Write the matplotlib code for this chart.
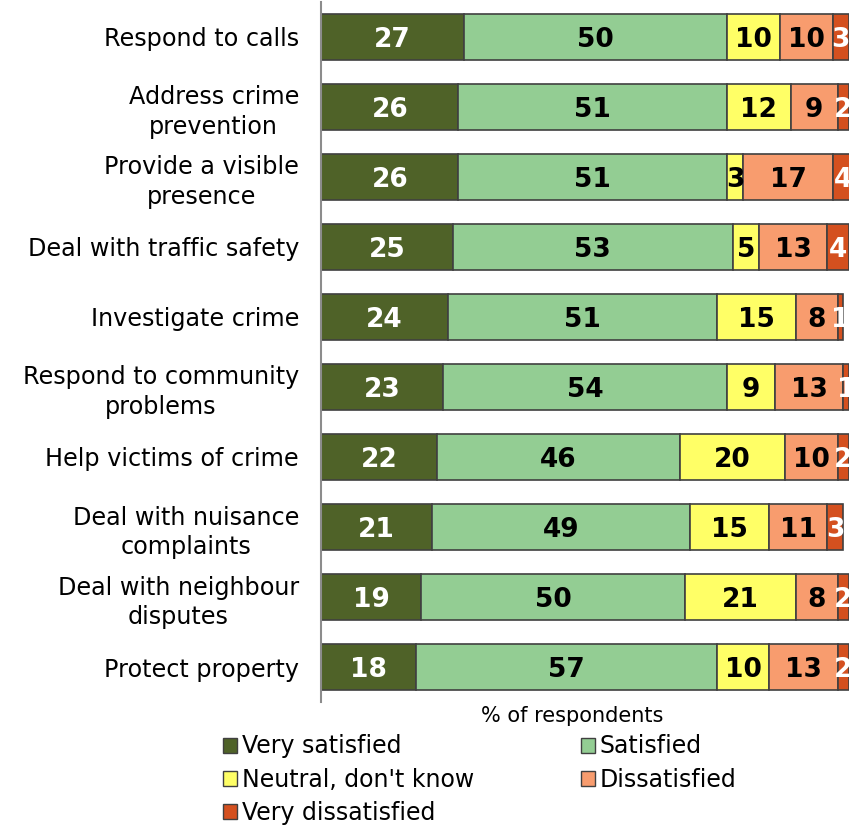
import matplotlib

matplotlib.use("Agg")
import matplotlib.pyplot as plt
from matplotlib.patches import Patch

categories = [
    "Respond to calls",
    "Address crime\nprevention",
    "Provide a visible\npresence",
    "Deal with traffic safety",
    "Investigate crime",
    "Respond to community\nproblems",
    "Help victims of crime",
    "Deal with nuisance\ncomplaints",
    "Deal with neighbour\ndisputes",
    "Protect property",
]
series_names = ["Very satisfied", "Satisfied", "Neutral, don't know", "Dissatisfied", "Very dissatisfied"]
very_satisfied = [27, 26, 26, 25, 24, 23, 22, 21, 19, 18]
satisfied = [50, 51, 51, 53, 51, 54, 46, 49, 50, 57]
neutral = [10, 12, 3, 5, 15, 9, 20, 15, 21, 10]
dissatisfied = [10, 9, 17, 13, 8, 13, 10, 11, 8, 13]
very_dissatisfied = [3, 2, 4, 4, 1, 1, 2, 3, 2, 2]

colors = ["#4f6228", "#93cd93", "#ffff66", "#f89c6e", "#d4501f"]
text_colors = ["white", "black", "black", "black", "white"]

fig = plt.figure(figsize=(8.52, 8.27), dpi=100)
ax = fig.add_axes([0.377, 0.151, 0.619, 0.847])

series = [very_satisfied, satisfied, neutral, dissatisfied, very_dissatisfied]
ypos = list(range(len(categories)))
left = [0] * len(categories)
for name, vals, col, tcol in zip(series_names, series, colors, text_colors):
    bars = ax.barh(ypos, vals, left=left, height=0.66, color=col,
                   edgecolor="#404040", linewidth=1.2, label=name)
    for b, v, l in zip(bars, vals, left):
        ax.text(l + v / 2, b.get_y() + b.get_height() / 2, str(v),
                ha="center", va="center_baseline", color=tcol, fontsize=19,
                fontweight="bold", clip_on=False)
    left = [a + b for a, b in zip(left, vals)]

ax.set_xlim(0, 100)
ax.set_ylim(len(categories) - 0.5, -0.5)
ax.set_yticks(ypos)
ax.set_yticklabels(categories, fontsize=17.2, multialignment="center",
                   linespacing=1.3)
ax.tick_params(axis="y", length=0, pad=16)
ax.set_xticks([])
for s in ["top", "right", "bottom"]:
    ax.spines[s].set_visible(False)
ax.spines["left"].set_color("#8c8c8c")
ax.spines["left"].set_linewidth(1.5)

fig.text(0.672, 0.134, "% of respondents", ha="center", va="center", fontsize=15)

handles = [Patch(facecolor=c, edgecolor="#404040", label=n) for c, n in zip(colors, series_names)]
order = [0, 2, 4, 1, 3]
fig.legend([handles[i] for i in order], [series_names[i] for i in order],
           ncol=2, loc="upper left", bbox_to_anchor=(0.262, 0.112),
           frameon=False, fontsize=17, handlelength=0.6, handleheight=0.6,
           handletextpad=0.2, columnspacing=4.5, labelspacing=0.4,
           borderaxespad=0, borderpad=0)

fig.savefig("out.png", dpi=100)
